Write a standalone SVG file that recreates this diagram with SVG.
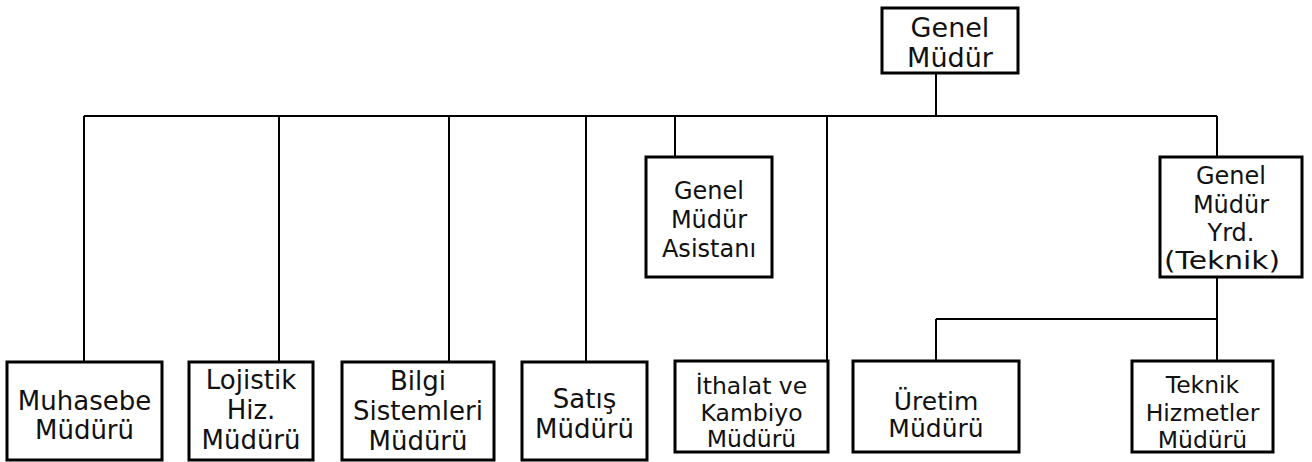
<svg xmlns="http://www.w3.org/2000/svg" width="1312" height="462" viewBox="0 0 1312 462">
<style>
.box{fill:#fff;stroke:#000;stroke-width:3}
.ln{fill:none;stroke:#000;stroke-width:2}
text{font-family:"DejaVu Sans",Verdana,sans-serif;fill:#111;text-anchor:middle}
.t27{font-size:27px}
.t26{font-size:26px}
.t25{font-size:25px}
.t24{font-size:24px}
.t23{font-size:23.5px}
</style>
<rect width="1312" height="462" fill="#fff"/>
<g id="connectors">
<path class="ln" d="M936 73V116M84 116H1217M84 116V362M279 116V362M449 116V362M586 116V362M675 116V157M827 116V361M1217 116V157M1217 277V319M936 319H1217M936 319V361M1217 319V361"/>
</g>
<g id="genel-mudur">
<rect class="box" x="882" y="8" width="136" height="65"/>
<text class="t27" x="950" y="36.5">Genel</text>
<text class="t27" x="950" y="66.5">Müdür</text>
</g>
<g id="asistan">
<rect class="box" x="646" y="157" width="126" height="120"/>
<text class="t24" x="709" y="199">Genel</text>
<text class="t24" x="709" y="228">Müdür</text>
<text class="t24" x="709" y="257">Asistanı</text>
</g>
<g id="gmy-teknik">
<rect class="box" x="1160" y="157" width="142" height="120"/>
<text class="t24" x="1231" y="184">Genel</text>
<text class="t24" x="1231" y="213">Müdür</text>
<text class="t24" x="1231" y="241">Yrd.</text>
<text class="t24" x="1222" y="269" textLength="116" lengthAdjust="spacingAndGlyphs">(Teknik)</text>
</g>
<g id="muhasebe">
<rect class="box" x="7" y="362" width="155" height="98"/>
<text class="t26" x="84.5" y="410">Muhasebe</text>
<text class="t26" x="84.5" y="439">Müdürü</text>
</g>
<g id="lojistik">
<rect class="box" x="189" y="362" width="124" height="98"/>
<text class="t26" x="251" y="389">Lojistik</text>
<text class="t26" x="251" y="419">Hiz.</text>
<text class="t26" x="251" y="449">Müdürü</text>
</g>
<g id="bilgi">
<rect class="box" x="342" y="362" width="152" height="98"/>
<text class="t26" x="418" y="390">Bilgi</text>
<text class="t26" x="418" y="420">Sistemleri</text>
<text class="t26" x="418" y="450">Müdürü</text>
</g>
<g id="satis">
<rect class="box" x="522" y="362" width="125" height="98"/>
<text class="t26" x="584.5" y="408">Satış</text>
<text class="t26" x="584.5" y="438">Müdürü</text>
</g>
<g id="ithalat">
<rect class="box" x="675" y="361" width="153" height="91"/>
<text class="t23" x="751.5" y="394">İthalat ve</text>
<text class="t23" x="751.5" y="421">Kambiyo</text>
<text class="t23" x="751.5" y="447">Müdürü</text>
</g>
<g id="uretim">
<rect class="box" x="853" y="361" width="166" height="91"/>
<text class="t25" x="936" y="410">Üretim</text>
<text class="t25" x="936" y="437">Müdürü</text>
</g>
<g id="teknik-hizmetler">
<rect class="box" x="1132" y="361" width="141" height="91"/>
<text class="t23" x="1202.5" y="393">Teknik</text>
<text class="t23" x="1202.5" y="421">Hizmetler</text>
<text class="t23" x="1202.5" y="448">Müdürü</text>
</g>
</svg>
